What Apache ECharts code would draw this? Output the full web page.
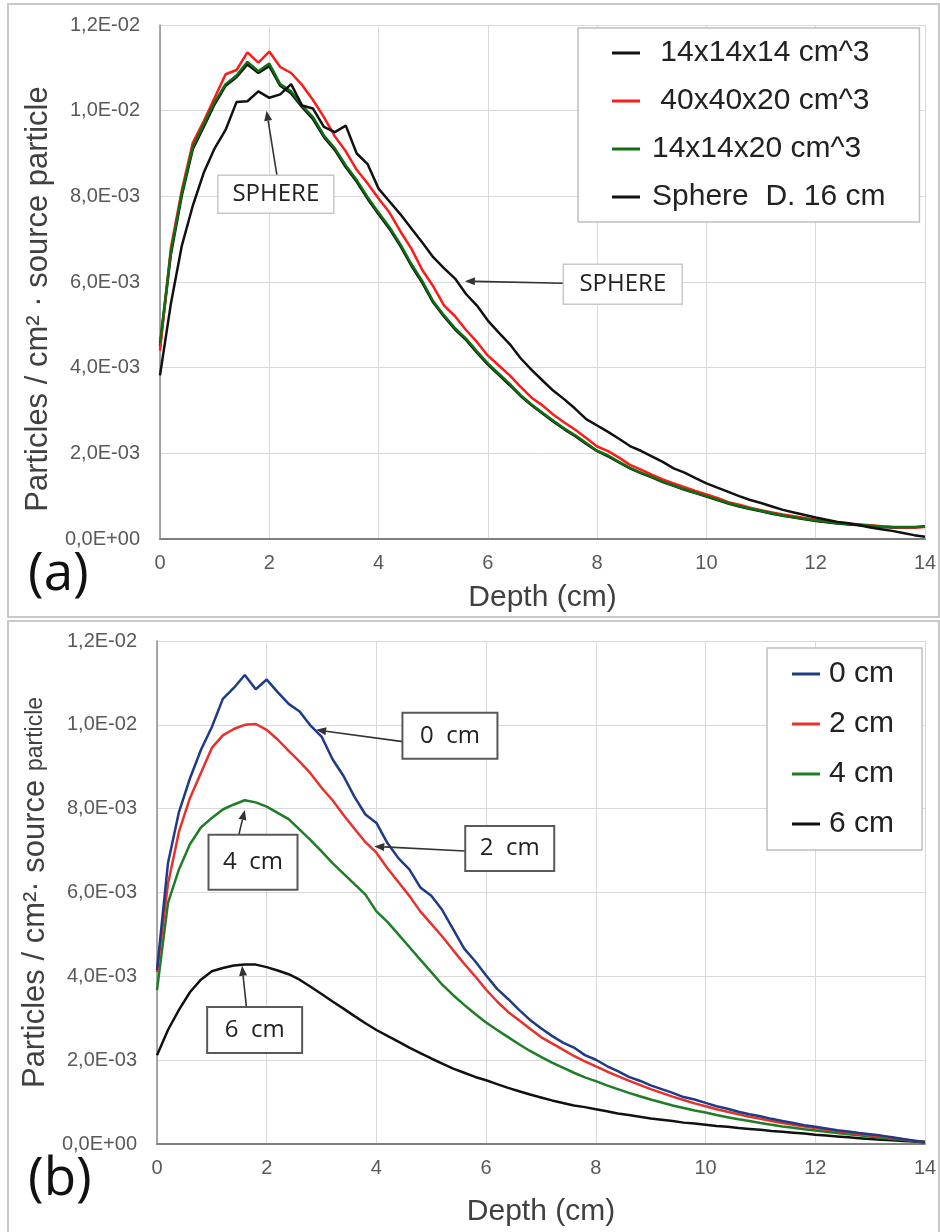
<!DOCTYPE html>
<html>
<head>
<meta charset="utf-8">
<script src="https://cdn.jsdelivr.net/npm/echarts@6/dist/echarts.min.js"></script>
<style>html,body{margin:0;padding:0;background:#fff}#c{width:940px;height:1232px}</style>
</head>
<body>
<div id="c"></div>
<script>
// Depth (cm) sampling grid shared by all curves
const depth = [0,0.2,0.4,0.6,0.8,1.0,1.2,1.4,1.6,1.8,2.0,2.2,2.4,2.6,2.8,3.0,3.2,3.4,3.6,3.8,4.0,4.2,4.4,4.6,4.8,5.0,5.2,5.4,5.6,5.8,6.0,6.2,6.4,6.6,6.8,7.0,7.2,7.4,7.6,7.8,8.0,8.2,8.4,8.6,8.8,9.0,9.2,9.4,9.6,9.8,10.0,10.2,10.4,10.6,10.8,11.0,11.2,11.4,11.6,11.8,12.0,12.2,12.4,12.6,12.8,13.0,13.2,13.4,13.6,13.8,14.0];

// Panel (a) values, in units of 1E-03 particles / cm2 · source particle
const a_14x14x14 = [4.50,6.65,8.02,9.10,9.62,10.15,10.58,10.78,11.08,10.88,11.04,10.58,10.40,10.08,9.80,9.38,9.08,8.68,8.34,7.94,7.58,7.24,6.84,6.38,5.98,5.52,5.19,4.89,4.65,4.35,4.07,3.83,3.59,3.34,3.12,2.93,2.74,2.56,2.40,2.22,2.05,1.93,1.79,1.65,1.54,1.44,1.33,1.24,1.15,1.07,0.99,0.91,0.83,0.76,0.70,0.65,0.59,0.54,0.50,0.46,0.42,0.39,0.36,0.34,0.32,0.30,0.28,0.27,0.27,0.27,0.29];
const a_40x40x20 = [4.40,6.80,8.15,9.25,9.75,10.30,10.85,10.95,11.36,11.12,11.38,11.02,10.88,10.60,10.25,9.85,9.40,9.05,8.62,8.30,7.95,7.62,7.18,6.78,6.28,5.90,5.45,5.20,4.88,4.60,4.28,4.05,3.82,3.55,3.30,3.12,2.90,2.72,2.55,2.36,2.16,2.05,1.90,1.73,1.62,1.50,1.39,1.30,1.21,1.12,1.04,0.96,0.86,0.80,0.73,0.67,0.62,0.57,0.53,0.49,0.45,0.41,0.39,0.36,0.34,0.32,0.30,0.28,0.27,0.27,0.28];
const a_14x14x20 = [4.58,6.72,8.08,9.15,9.68,10.20,10.62,10.82,11.14,10.92,11.10,10.62,10.45,10.12,9.85,9.42,9.12,8.72,8.38,7.98,7.62,7.28,6.88,6.42,6.02,5.55,5.22,4.92,4.68,4.38,4.10,3.86,3.62,3.36,3.14,2.95,2.76,2.58,2.42,2.24,2.06,1.95,1.80,1.66,1.55,1.45,1.34,1.25,1.16,1.08,1.00,0.92,0.84,0.77,0.71,0.66,0.60,0.55,0.51,0.47,0.43,0.40,0.37,0.35,0.33,0.31,0.29,0.28,0.28,0.28,0.30];
const a_sphere = [3.82,5.50,6.85,7.78,8.55,9.12,9.55,10.20,10.22,10.45,10.30,10.38,10.62,10.12,10.05,9.62,9.50,9.65,9.00,8.75,8.18,7.88,7.58,7.25,6.92,6.58,6.32,6.08,5.72,5.45,5.10,4.82,4.55,4.22,3.95,3.70,3.46,3.26,3.04,2.80,2.65,2.50,2.34,2.17,2.06,1.93,1.80,1.65,1.55,1.42,1.30,1.20,1.10,1.00,0.91,0.84,0.76,0.68,0.62,0.56,0.50,0.45,0.40,0.37,0.32,0.27,0.23,0.19,0.14,0.09,0.05];

// Panel (b) values, in units of 1E-03
const b_0cm = [4.15,6.70,7.92,8.72,9.40,9.95,10.62,10.88,11.19,10.85,11.08,10.78,10.50,10.32,9.98,9.72,9.18,8.78,8.28,7.86,7.66,7.18,6.82,6.55,6.12,5.92,5.58,5.12,4.66,4.36,4.02,3.70,3.46,3.20,2.96,2.76,2.58,2.42,2.30,2.12,2.01,1.86,1.74,1.60,1.51,1.40,1.31,1.22,1.12,1.06,0.98,0.90,0.84,0.77,0.71,0.66,0.60,0.55,0.50,0.45,0.41,0.37,0.33,0.30,0.26,0.23,0.20,0.16,0.12,0.08,0.05];
const b_2cm = [4.10,6.20,7.45,8.25,8.85,9.45,9.75,9.90,10.00,10.02,9.88,9.65,9.38,9.12,8.84,8.50,8.20,7.85,7.52,7.20,6.95,6.58,6.25,5.92,5.55,5.25,4.95,4.62,4.30,4.00,3.68,3.40,3.15,2.95,2.75,2.55,2.40,2.25,2.10,1.97,1.85,1.73,1.62,1.51,1.41,1.31,1.22,1.13,1.05,0.97,0.90,0.83,0.77,0.71,0.65,0.60,0.55,0.50,0.46,0.42,0.38,0.34,0.31,0.27,0.24,0.21,0.18,0.15,0.11,0.08,0.05];
const b_4cm = [3.67,5.75,6.55,7.15,7.55,7.78,7.98,8.10,8.20,8.15,8.05,7.90,7.75,7.50,7.25,6.98,6.70,6.45,6.20,5.95,5.55,5.30,5.00,4.70,4.40,4.10,3.80,3.55,3.32,3.10,2.90,2.72,2.55,2.38,2.22,2.08,1.94,1.82,1.70,1.59,1.50,1.40,1.31,1.22,1.14,1.06,0.99,0.92,0.86,0.80,0.75,0.69,0.64,0.59,0.55,0.50,0.46,0.42,0.39,0.35,0.32,0.29,0.26,0.23,0.21,0.18,0.15,0.12,0.10,0.07,0.05];
const b_6cm = [2.12,2.72,3.20,3.62,3.92,4.12,4.20,4.26,4.28,4.28,4.22,4.14,4.05,3.92,3.75,3.58,3.40,3.23,3.05,2.88,2.72,2.58,2.44,2.30,2.17,2.04,1.92,1.80,1.70,1.60,1.52,1.43,1.34,1.26,1.18,1.11,1.04,0.98,0.92,0.88,0.83,0.78,0.73,0.69,0.65,0.61,0.58,0.55,0.51,0.49,0.46,0.43,0.41,0.38,0.36,0.34,0.31,0.29,0.27,0.25,0.22,0.20,0.18,0.16,0.14,0.12,0.10,0.09,0.07,0.06,0.04];

const namesA = [' 14x14x14 cm^3', ' 40x40x20 cm^3', '14x14x20 cm^3', 'Sphere  D. 16 cm'];
const namesB = ['0 cm', '2 cm', '4 cm', '6 cm'];
const xTitle = 'Depth (cm)';
const yTitleA = 'Particles / cm² · source particle';
const yTitleB = 'Particles / cm²· source {s|particle}';

// Annotations (anchored in data coordinates)
const annA = [
  {text: 'SPHERE', box: [2.12, 8.05], size: [116, 38], from: [2.14, 8.49], to: [1.95, 10.0]},
  {text: 'SPHERE', box: [8.47, 5.95], size: [119, 40], from: [7.39, 5.97], to: [5.58, 6.02]}
];
const annB = [
  {text: '0  cm', box: [5.34, 9.74], size: [95, 46], from: [4.48, 9.6], to: [2.90, 9.88]},
  {text: '2  cm', box: [6.43, 7.05], size: [89, 45], from: [5.61, 6.99], to: [3.96, 7.10]},
  {text: '4  cm', box: [1.75, 6.72], size: [89, 55], from: [1.49, 7.37], to: [1.60, 7.97]},
  {text: '6  cm', box: [1.78, 2.72], size: [95, 46], from: [1.63, 3.27], to: [1.55, 4.25]}
];

const FONT = "Arial, 'Liberation Sans', sans-serif";
function sci(v) {
  if (v === 0) return '0,0E+00';
  const a = v * 1e-3;
  const e = Math.floor(Math.log10(a) + 1e-9);
  const m = a / Math.pow(10, e);
  return m.toFixed(1).replace('.', ',') + 'E' + (e < 0 ? '-' : '+') + String(Math.abs(e)).padStart(2, '0');
}
function pts(vals) { return depth.map((d, i) => [d, vals[i]]); }

function xAxisCfg(gi, gap) {
  return {
    type: 'value', gridIndex: gi, min: 0, max: 14, interval: 2,
    name: xTitle, nameLocation: 'middle', nameGap: gap,
    nameTextStyle: {fontSize: 30, color: '#404040', fontFamily: FONT},
    axisLine: {lineStyle: {color: '#7f7f7f', width: 2}},
    axisTick: {show: false},
    axisLabel: {fontSize: 20, color: '#595959', fontFamily: FONT, margin: 14},
    splitLine: {show: true, lineStyle: {color: '#d9d9d9', width: 1}}
  };
}
function yAxisCfg(gi, name, pad, size) {
  return {
    type: 'value', gridIndex: gi, min: 0, max: 12, interval: 2,
    name: name, nameLocation: 'middle', nameGap: 106, nameRotate: 90,
    nameTextStyle: {fontSize: size, color: '#404040', fontFamily: FONT, padding: pad,
      rich: {s: {fontSize: 23, color: '#404040', fontFamily: FONT}}},
    axisLine: {show: true, lineStyle: {color: '#8c8c8c', width: 1.5}},
    axisTick: {show: false},
    axisLabel: {fontSize: 20, color: '#595959', fontFamily: FONT, margin: 20, formatter: sci},
    splitLine: {show: true, lineStyle: {color: '#d9d9d9', width: 1}}
  };
}
function line(name, vals, color, gi, z) {
  return {
    name: name, type: 'line', xAxisIndex: gi, yAxisIndex: gi, data: pts(vals),
    symbol: 'none', smooth: false, z: z,
    lineStyle: {color: color, width: 2.5}, itemStyle: {color: color}
  };
}
function legendCfg(names, left, top, gap, pad, textPad) {
  return {
    data: names, left: left, top: top, orient: 'vertical', icon: 'rect',
    itemWidth: 28, itemHeight: 3, itemGap: gap, padding: pad,
    borderColor: '#bfbfbf', borderWidth: 1.5, backgroundColor: '#ffffff',
    textStyle: {fontSize: 30, color: '#222', fontFamily: FONT, lineHeight: 28, padding: [0, 0, 0, textPad]}
  };
}

const chart = echarts.init(document.getElementById('c'), null, {renderer: 'canvas'});
chart.setOption({
  backgroundColor: '#ffffff',
  animation: false,
  grid: [
    {left: 160, top: 25, width: 765, height: 514},
    {left: 157, top: 641, width: 768, height: 503}
  ],
  xAxis: [xAxisCfg(0, 44), xAxisCfg(1, 53)],
  yAxis: [
    yAxisCfg(0, yTitleA, [0, 34, 0, 0], 31),
    yAxisCfg(1, yTitleB, [0, 0, 0, 0], 31)
  ],
  legend: [
    legendCfg(namesA, 578, 28, 18, [10, 34, 10, 34], 7),
    legendCfg(namesB, 767, 648, 20, [11, 28, 11, 25], 4)
  ],
  series: [
    line(namesA[0], a_14x14x14, '#111111', 0, 2),
    line(namesA[1], a_40x40x20, '#ff1a1a', 0, 3),
    line(namesA[2], a_14x14x20, '#0d6e12', 0, 4),
    line(namesA[3], a_sphere, '#111111', 0, 5),
    line(namesB[0], b_0cm, '#1f3a86', 1, 5),
    line(namesB[1], b_2cm, '#e8302c', 1, 4),
    line(namesB[2], b_4cm, '#1e7d25', 1, 3),
    line(namesB[3], b_6cm, '#111111', 1, 2)
  ]
});

function annotationGraphics(list, gi, strokeCol, strokeW) {
  const out = [];
  list.forEach(a => {
    const c = chart.convertToPixel({gridIndex: gi}, a.box);
    const f = chart.convertToPixel({gridIndex: gi}, a.from);
    const t = chart.convertToPixel({gridIndex: gi}, a.to);
    const dx = t[0] - f[0], dy = t[1] - f[1];
    const len = Math.sqrt(dx * dx + dy * dy);
    const ux = dx / len, uy = dy / len;
    const hl = 10, hw = 4;
    const bx = t[0] - ux * hl, by = t[1] - uy * hl;
    out.push({type: 'line', z: 50, shape: {x1: f[0], y1: f[1], x2: bx, y2: by},
      style: {stroke: '#333', lineWidth: 1.6}});
    out.push({type: 'polygon', z: 50, shape: {points: [[t[0], t[1]], [bx - uy * hw, by + ux * hw], [bx + uy * hw, by - ux * hw]]},
      style: {fill: '#333'}});
    out.push({type: 'rect', z: 51, shape: {x: c[0] - a.size[0] / 2, y: c[1] - a.size[1] / 2, width: a.size[0], height: a.size[1]},
      style: {fill: '#ffffff', stroke: strokeCol, lineWidth: strokeW}});
    out.push({type: 'text', z: 52, x: c[0], y: c[1],
      style: {text: a.text, fill: '#222', font: "24px 'Open Sans', sans-serif", align: 'center', verticalAlign: 'middle'}});
  });
  return out;
}

const graphics = [
  {type: 'rect', z: -1, silent: true, shape: {x: 8, y: 4, width: 931, height: 613}, style: {fill: 'none', stroke: '#c8c8c8', lineWidth: 2}},
  {type: 'rect', z: -1, silent: true, shape: {x: 8, y: 621, width: 931, height: 620}, style: {fill: 'none', stroke: '#c8c8c8', lineWidth: 2}},
  {type: 'text', z: 60, x: 28, y: 548, style: {text: '(a)', fill: '#111', font: "53px 'Open Sans', sans-serif"}},
  {type: 'text', z: 60, x: 28, y: 1153, style: {text: '(b)', fill: '#111', font: "53px 'Open Sans', sans-serif"}}
].concat(annotationGraphics(annA, 0, '#c8c8c8', 1.5)).concat(annotationGraphics(annB, 1, '#595959', 2));

chart.setOption({graphic: graphics});
</script>
</body>
</html>
